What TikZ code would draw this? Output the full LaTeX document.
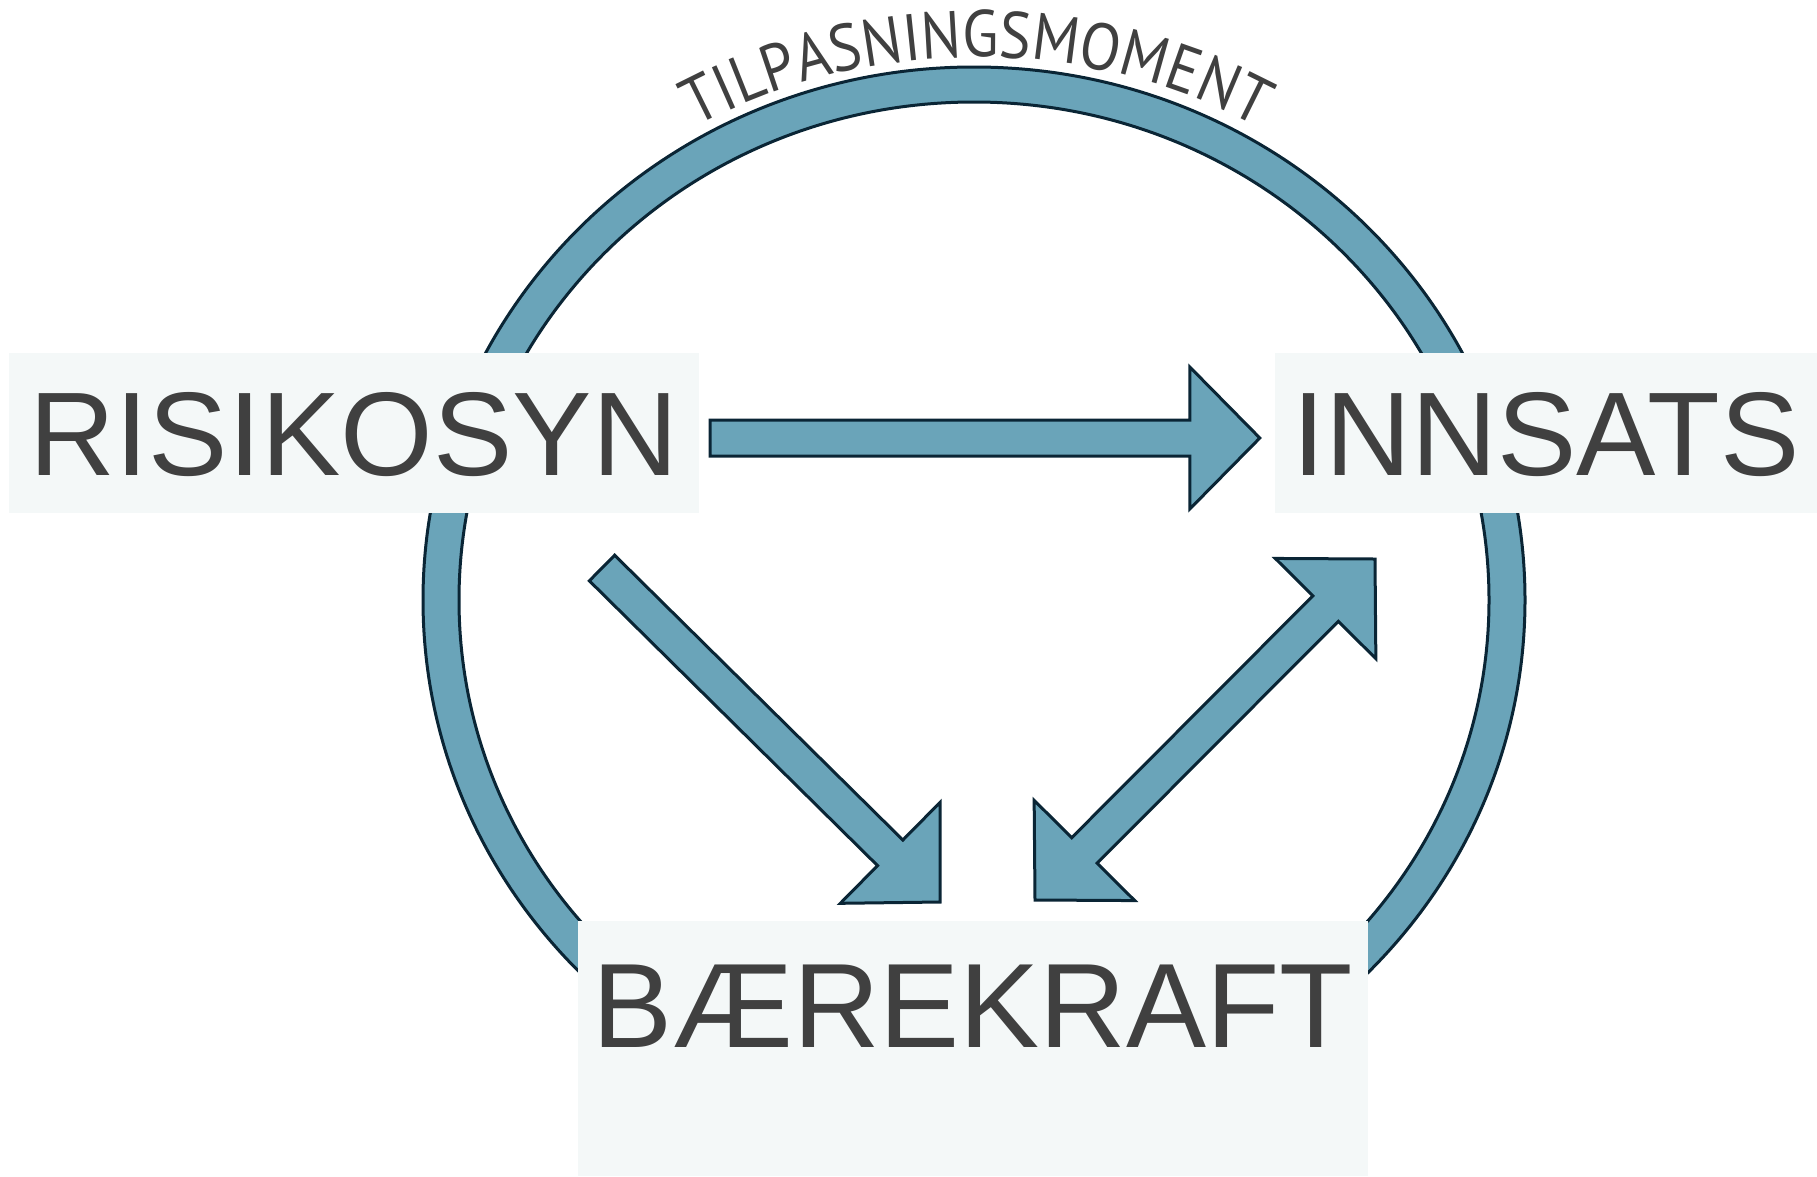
\documentclass[tikz,border=0pt]{standalone}
\usepackage{fontspec}
\setmainfont{Liberation Sans}
\newfontfamily\arcfont[FakeStretch=0.9]{PT Sans}
\usetikzlibrary{calc,decorations.text}

\definecolor{ringblue}{RGB}{106,164,185}
\definecolor{ringline}{RGB}{10,37,53}
\definecolor{boxfill}{RGB}{244,248,248}
\definecolor{txtgray}{RGB}{64,64,64}

\newcommand{\shaftw}{18pt}
\newcommand{\headl}{70pt}
\newcommand{\headw}{71pt}

% block arrow from #1 to #2
\newcommand{\blockarrow}[2]{%
\coordinate (hb) at ($(#2)!\headl!(#1)$);
\filldraw[arrowbody] ($(#1)!\shaftw!90:(#2)$) -- ($(hb)!\shaftw!90:(#2)$) -- ($(hb)!\headw!90:(#2)$)
 -- (#2) -- ($(hb)!\headw!-90:(#2)$) -- ($(hb)!\shaftw!-90:(#2)$) -- ($(#1)!\shaftw!-90:(#2)$) -- cycle;
}
% block arrow with two heads
\newcommand{\dblockarrow}[2]{%
\coordinate (hb) at ($(#2)!\headl!(#1)$);
\coordinate (ht) at ($(#1)!\headl!(#2)$);
\filldraw[arrowbody] (#1) -- ($(ht)!\headw!90:(#2)$) -- ($(ht)!\shaftw!90:(#2)$) -- ($(hb)!\shaftw!90:(#2)$)
 -- ($(hb)!\headw!90:(#2)$) -- (#2) -- ($(hb)!\headw!-90:(#2)$) -- ($(hb)!\shaftw!-90:(#2)$)
 -- ($(ht)!\shaftw!-90:(#2)$) -- ($(ht)!\headw!-90:(#2)$) -- cycle;
}

\begin{document}
\begin{tikzpicture}[x=1pt, y=1pt]
\tikzstyle{ring}=[fill=ringblue, draw=ringline, line width=3pt, even odd rule]
\tikzstyle{arrowbody}=[fill=ringblue, draw=ringline, line width=3pt]
\tikzstyle{termbox}=[fill=boxfill, text=txtgray, inner sep=0pt, text height=85pt, text depth=0pt,
  font=\fontsize{119}{119}\selectfont]
\useasboundingbox (0,0) rectangle (1817,-1176);

\filldraw[ring] (974,-600) ellipse[x radius=551pt, y radius=533pt]
 (974,-600) ellipse[x radius=515pt, y radius=498pt];

\path[decorate, decoration={text along path, text align=center,
 text={|\arcfont\fontsize{66}{66}\selectfont\color{txtgray}|TILPASNINGSMOMENT}}]
 ($(977,-657)+(130:600pt)$) arc[start angle=130, end angle=50, radius=600pt];

\node[termbox, minimum width=690pt, minimum height=160pt] (risikosyn) at (354,-433) {RISIKOSYN};
\node[termbox, minimum width=542pt, minimum height=160pt] (innsats) at (1546,-433) {INNSATS};
\node[termbox, anchor=north, minimum width=790pt, inner ysep=41pt, text depth=88pt,
  font=\fontsize{120}{120}\selectfont] (baerekraft) at (973,-921) {BÆREKRAFT};

\coordinate (a1) at ($(risikosyn.east)+(11,-5)$);
\coordinate (a2) at ($(innsats.west)+(-15,-5)$);
\coordinate (b1) at (602,-568);
\coordinate (b2) at (940,-902);
\coordinate (c1) at (1035,-900);
\coordinate (c2) at (1375,-559);

\blockarrow{a1}{a2}
\blockarrow{b1}{b2}
\dblockarrow{c1}{c2}
\end{tikzpicture}
\end{document}
